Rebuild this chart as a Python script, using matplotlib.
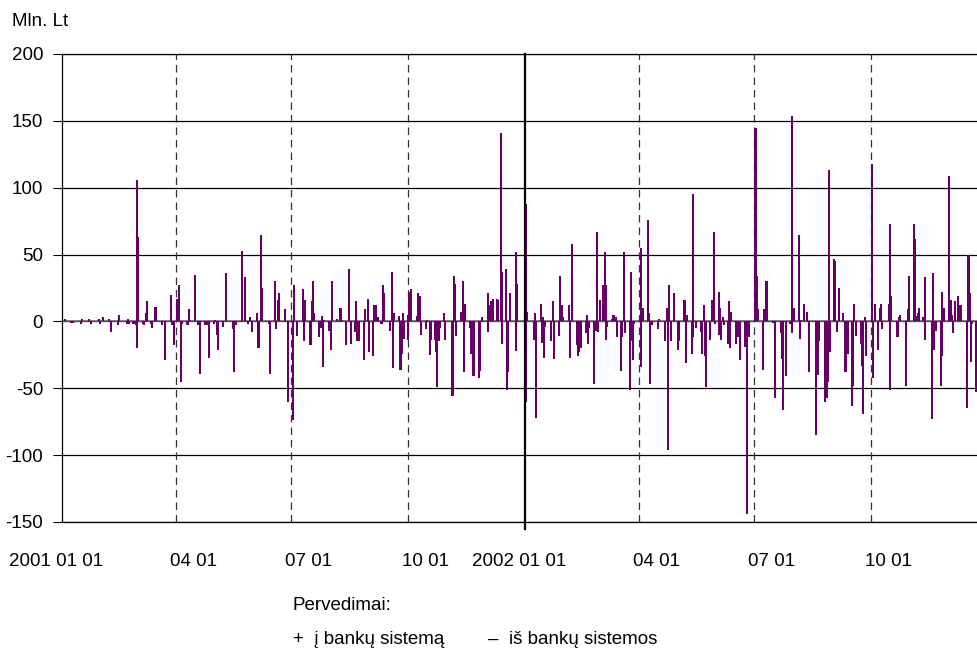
import matplotlib
matplotlib.use("Agg")
import matplotlib.pyplot as plt
import matplotlib.dates as mdates
import numpy as np
import pandas as pd
from matplotlib.transforms import ScaledTranslation

plt.rcParams["font.family"] = ["Liberation Sans", "DejaVu Sans"]
plt.rcParams["axes.unicode_minus"] = False

# Daily transfers, mln Lt, one value per business day from the quarter start.
# Positive = into the banking system, negative = out of it.
flows_2001q1 = [0, 0, 1.5, 0, 0, -1.5, 0, -1.5, 0, 0,
                0, -2, 1.5, 0, 0, 1.5, 0, -2, 0, 0,
                0, 1.5, -2, 0, 3, 0, 0, 1.5, 0, -8,
                0, 0, -3, 5, 0, 0, 0, -2, 2, -2,
                -2, -2, -3, 106, 63, 0, -2, -3, 6, 15,
                -2, -5, 0, 11, 11, 0, 0, -3, 0, -29,
                0, 0, 20, -3, -18]
flows_2001q2 = [17, 27, 0, -45, -2, 0, -3, 9, 1, 0,
                35, 0, -3, -2, -39, 0, -3, -3, 0, -27,
                0, -2, 1, -10, -21, 0, -4, 0, 36, 0,
                0, 0, -6, -38, -3, 0, 0, 53, 0, 33,
                -2, 3, 0, -8, 0, 6, -20, 0, 65, 25,
                0, 0, -2, -39, 0, 30, -6, 16, 21, 0,
                0, 9, 0, -60, 0]
flows_2001q3 = [-74, 27, 0, -11, 0, 0, 24, -15, 16, 0,
                -18, 15, 30, 6, 0, -12, -5, 4, -34, 1,
                0, -7, -21, 30, 0, 2, 0, 10, 10, 1,
                -18, 0, 39, 0, -17, -8, 15, -15, -15, 0,
                -29, 9, 0, 17, -23, -26, 12, 12, 12, 3,
                -2, 27, 21, 0, 0, -7, 37, -35, 6, 0,
                4, -36, -24, 6, -13]
flows_2001q4 = [5, 22, 24, 0, 0, 4, 21, 19, -10, 0,
                -6, 1, 0, -25, -14, -14, -23, -49, -15, -5,
                6, -14, 0, 0, 0, -56, 34, 28, -11, 0,
                7, 30, -38, 13, 0, -5, -24, -41, -41, 0,
                -42, -37, 3, 0, 0, 21, 12, 15, 10, 17,
                17, 16, 0, 141, 37, 39, -51, -38, 21, 0,
                0, 52, 28, 0, 0, 0]
flows_2002q1 = [0, 88, 7, 0, 0, -14, 6, -72, 0, 13,
                3, -27, -4, 0, 0, -15, 15, -28, 0, -11,
                34, 12, 3, 0, 0, 12, -27, 58, 0, -18,
                -26, -23, -20, 0, -9, 5, -17, -5, 0, -47,
                -7, 67, -8, 16, 27, 52, 27, -4, 0, 2,
                5, 0, 3, -12, -37, -12, 52, -9, 0, -51,
                37, -29, -2, 0]
flows_2002q2 = [0, 0, 55, 10, 0, 76, 6, -47, -3, 0,
                0, -6, 2, 0, 0, -15, 10, -96, 27, -15,
                21, 0, 0, -21, -15, 0, 16, -31, 5, 0,
                -24, 95, 0, -5, 0, -8, -24, 12, -26, -49,
                -14, 0, 16, 67, -2, 22, 10, -14, 3, -3,
                -17, 15, -20, 7, 0, -17, -12, 0, -29, 0,
                -19, -144, -4, -12, 0]
flows_2002q3 = [0, 145, 34, 9, 0, -36, 9, 30, 30, 0,
                0, -1, -57, 0, 0, -9, -28, -66, 0, -41,
                -2, 0, 154, 10, 0, 65, -13, 1, 0, 13,
                7, -38, 0, 0, 0, -85, -40, -15, 0, 0,
                -60, -57, -45, 113, -23, 47, 45, -8, 0, 25,
                6, 0, -38, -24, -24, -63, -48, 13, -11, 0,
                -17, -33, -69, 3, -26, 0]
flows_2002q4 = [0, 118, -42, 13, -21, 10, 13, -6, 0, 0,
                13, 73, 19, 0, 0, -12, 3, 5, 0, 0,
                -48, 9, 34, 0, 73, 62, 4, 6, 10, 3,
                0, 33, 0, 0, -73, 36, -21, -7, 0, -48,
                22, 0, 10, 0, 109, 16, 5, -9, 15, 19,
                12, 12, 0, 0, -65, 50, 21, -30, -2, -53]

quarter_starts = ["2001-01-01", "2001-04-01", "2001-07-01", "2001-10-01",
                  "2002-01-01", "2002-04-01", "2002-07-01", "2002-10-01"]
quarter_flows = [flows_2001q1, flows_2001q2, flows_2001q3, flows_2001q4,
                 flows_2002q1, flows_2002q2, flows_2002q3, flows_2002q4]

# days that had an outflow as well as an inflow
extra_out_dates = ["2001-03-01", "2001-10-01", "2001-12-03", "2001-12-14",
                   "2001-12-25", "2002-01-02", "2002-01-15", "2002-03-06",
                   "2002-03-26", "2002-04-03", "2002-05-14", "2002-06-03",
                   "2002-07-31", "2002-10-16", "2002-11-13", "2002-11-26"]
extra_out_values = [-20, -14, -8, -17, -22, -60, -16, -14,
                    -15, -34, -12, -10, -9, -51, -14, -26]

tick_labels = ["2001 01 01", "04 01", "07 01", "10 01",
               "2002 01 01", "04 01", "07 01", "10 01"]
year_start = "2002-01-01"
period_end = "2002-12-24"

BAR = "#660066"

dates, values = [], []
for start, vals in zip(quarter_starts, quarter_flows):
    days = pd.bdate_range(start, periods=len(vals))
    dates.extend(days)
    values.extend(vals)
x = mdates.date2num(pd.DatetimeIndex(dates))
x_extra = mdates.date2num(pd.to_datetime(extra_out_dates))

fig = plt.figure(figsize=(9.78, 6.53), dpi=100)
ax = fig.add_axes([62 / 978, 131 / 653, 916 / 978, 468 / 653])

# crisp ~2 px bars like the original
ax.bar(x, values, width=1.6, color=BAR, linewidth=0, antialiased=False,
       zorder=3)
ax.bar(x_extra, extra_out_values, width=1.6, color=BAR, linewidth=0,
       antialiased=False, zorder=3)
ax.axhline(0, color="#666666", lw=1.1, zorder=2)

q = mdates.date2num(pd.to_datetime(quarter_starts))
for qd, s in zip(q[1:], quarter_starts[1:]):
    if s == year_start:
        ax.axvline(qd, ymin=-0.014, ymax=1, color="black", lw=1.6,
                   clip_on=False, zorder=4)
    else:
        ax.axvline(qd, color="#333333", lw=0.9, ls=(0, (6, 4)), zorder=2)

ax.set_xlim(q[0], mdates.date2num(pd.Timestamp(period_end)) + 0.5)
ax.set_ylim(-150, 200)
ax.set_yticks(np.arange(-150, 201, 50))
ax.yaxis.grid(True, color="black", lw=0.9)
ax.set_axisbelow(True)

ax.set_xticks(q)
ax.set_xticklabels(tick_labels)
ax.tick_params(axis="x", length=0, pad=22, labelsize=13.5)
ax.tick_params(axis="y", direction="out", length=6.5, width=0.8,
               pad=7, labelsize=13.5)
shift = ScaledTranslation(0.41, 0, fig.dpi_scale_trans)
for lbl in ax.get_xticklabels():
    lbl.set_horizontalalignment("right")
    lbl.set_transform(lbl.get_transform() + shift)

for side in ("left", "bottom", "top"):
    ax.spines[side].set_color("black")
    ax.spines[side].set_linewidth(0.9)
ax.spines["right"].set_visible(False)

fig.text(12 / 978, 1 - 21 / 653, "Mln. Lt", fontsize=13.5, va="center")
fig.text(293 / 978, 1 - 605 / 653, "Pervedimai:", fontsize=13.5, va="center")
fig.text(293 / 978, 1 - 640 / 653, "+  į bankų sistemą", fontsize=13.5,
         va="center")
fig.text(488 / 978, 1 - 640 / 653, "–  iš bankų sistemos", fontsize=13.5,
         va="center")

fig.savefig("out.png", dpi=100)
